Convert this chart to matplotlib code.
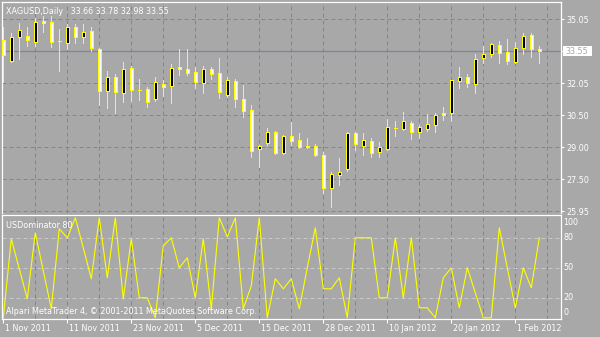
import matplotlib
matplotlib.use("Agg")
import matplotlib.pyplot as plt
from matplotlib.patches import Rectangle
from matplotlib.transforms import blended_transform_factory
import numpy as np

# XAGUSD daily bars, 1 Nov 2011 .. 6 Feb 2012
opens = [34.07, 33.07, 34.23, 34.26, 33.99, 34.98, 34.92, 34.03, 33.94, 34.67,
         34.20, 34.51, 33.63, 31.65, 32.33, 31.56, 32.73, 31.71, 31.73, 31.26,
         31.97, 31.89, 32.78, 32.68, 32.54, 32.05, 32.68, 32.49, 31.46, 32.13,
         31.27, 30.75, 28.89, 29.20, 29.69, 28.70, 29.52, 29.31, 29.02, 29.04,
         28.62, 27.04, 27.66, 27.94, 29.65, 29.06, 29.27, 28.75, 28.92, 29.91,
         29.86, 30.13, 29.69, 29.84, 30.03, 30.61, 30.59, 32.11, 32.30, 31.97,
         33.20, 33.39, 33.82, 33.49, 33.04, 33.68, 34.31, 33.66]
highs = [34.69, 34.40, 34.89, 34.70, 35.10, 35.21, 35.21, 34.58, 34.83, 34.83,
         34.83, 34.67, 33.67, 32.60, 32.46, 33.03, 32.84, 32.21, 31.83, 32.30,
         32.17, 32.93, 33.63, 33.63, 32.80, 32.84, 32.80, 33.20, 32.30, 32.22,
         31.94, 30.99, 29.09, 29.90, 29.76, 29.58, 30.18, 29.68, 29.44, 29.14,
         28.77, 27.83, 28.48, 29.72, 29.72, 29.65, 29.42, 29.23, 30.32, 30.23,
         30.67, 30.24, 30.03, 30.56, 30.62, 30.91, 32.19, 32.80, 32.46, 33.41,
         33.78, 33.94, 34.04, 34.12, 33.99, 34.39, 34.42, 33.78]
lows = [32.08, 33.03, 33.15, 33.78, 33.78, 34.46, 33.75, 32.61, 33.64, 33.91,
        33.91, 33.55, 30.99, 30.86, 30.62, 31.14, 31.18, 31.23, 30.91, 31.18,
        31.43, 31.07, 32.41, 32.41, 31.78, 31.54, 32.21, 31.33, 31.38, 30.88,
        30.41, 28.51, 28.06, 29.09, 28.65, 28.67, 29.09, 28.96, 28.96, 28.58,
        26.83, 26.14, 27.20, 27.87, 28.86, 28.62, 28.54, 28.54, 28.86, 29.52,
        29.80, 29.39, 29.44, 29.76, 29.72, 30.28, 30.24, 31.78, 31.83, 31.54,
        32.96, 33.28, 32.99, 32.92, 32.99, 33.41, 33.28, 32.98]
closes = [33.36, 34.20, 34.53, 34.08, 34.91, 34.89, 33.99, 34.02, 34.67, 34.20,
          34.46, 33.68, 31.65, 32.30, 31.59, 32.68, 31.70, 31.70, 31.14, 32.06,
          31.86, 32.76, 32.68, 32.49, 32.06, 32.68, 32.44, 31.62, 32.17, 31.26,
          30.72, 28.82, 29.06, 29.69, 28.73, 29.52, 29.30, 29.01, 29.01, 28.63,
          27.04, 27.72, 27.81, 29.65, 29.13, 29.33, 28.70, 28.98, 29.93, 29.90,
          30.22, 29.69, 29.93, 30.09, 30.51, 30.50, 32.17, 32.30, 32.02, 33.15,
          33.41, 33.88, 33.47, 33.09, 33.68, 34.26, 33.63, 33.55]

# USDominator(80) oscillator, one value per bar
usdom = [0, 79, 49, 19, 85, 47, 9, 89, 80, 100,
         70, 39, 100, 40, 100, 19, 79, 20, 20, 0,
         72, 80, 50, 60, 20, 79, 9, 100, 81, 100,
         9, 32, 100, 0, 39, 29, 39, 9, 50, 90,
         29, 29, 40, 0, 80, 80, 80, 20, 20, 80,
         20, 80, 10, 10, 0, 40, 50, 10, 50, 25,
         0, 0, 90, 50, 10, 50, 30, 80]

price_levels = [25.95, 27.47, 28.98, 30.50, 32.02, 33.53, 35.05]
price_labels = ["25.95", "27.50", "29.00", "30.50", "32.05", "", "35.05"]
ind_levels = [20, 50, 80]
ind_labels = {"100": 95.5, "80": 80, "50": 50, "20": 20, "0": 5.5}
date_pos = [0, 8, 16, 24, 32, 40, 48, 56, 64]
date_labels = ["1 Nov 2011", "11 Nov 2011", "23 Nov 2011", "5 Dec 2011",
               "15 Dec 2011", "28 Dec 2011", "10 Jan 2012", "20 Jan 2012",
               "1 Feb 2012"]

BG = "#a8a8a8"
GRID = "#778899"
YEL = "#ffff00"
W, H = 600, 337
FS = 5.8
LW = 0.72  # one pixel at 100 dpi

fig = plt.figure(figsize=(6, 3.37), dpi=100, facecolor=BG)


def px_axes(x0, y0, x1, y1):
    return fig.add_axes([x0 / W, 1 - y1 / H, (x1 - x0) / W, (y1 - y0) / H])


ax = px_axes(2, 2, 560.5, 212.5)
ax2 = px_axes(2, 214.5, 560.5, 319)
xlim = (-0.16, 69.65)

for a in (ax, ax2):
    a.set_facecolor(BG)
    a.set_xlim(*xlim)
    for s in a.spines.values():
        s.set_color("white")
        s.set_linewidth(0.9)
    for xv in np.arange(4, 69, 4):
        a.axvline(xv, color=GRID, lw=LW, ls=(0, (4, 3)), zorder=0.5)

ax.spines["bottom"].set_visible(False)
ax.set_ylim(25.89, 35.87)

# price grid + right axis
ax.yaxis.tick_right()
ax.set_yticks(price_levels, price_labels)
ax.tick_params(axis="y", colors="white", length=2.2, width=0.8, pad=2,
               labelsize=FS)
ax.tick_params(axis="x", bottom=False, labelbottom=False)
for lv in price_levels:
    ax.axhline(lv, color=GRID, lw=LW, ls=(0, (4, 3)), zorder=0.5)

# current price line
ax.axhline(closes[-1], color=GRID, lw=0.9, zorder=1)

# candles: black body = up day, white body = down day
for i in range(len(opens)):
    o, h, l, c = opens[i], highs[i], lows[i], closes[i]
    ax.vlines(i, l, h, color=YEL, lw=LW, zorder=2, antialiased=False)
    fill = "black" if c > o else "white"
    ax.add_patch(Rectangle((i - 0.22, min(o, c)), 0.44, abs(c - o),
                           facecolor=fill, edgecolor=YEL, lw=LW,
                           zorder=3, antialiased=False))

# indicator
ax2.set_ylim(-1.2, 103.3)
for lv in ind_levels:
    ax2.axhline(lv, color="#c8c8c8", lw=LW, ls=(0, (4, 3)), zorder=0.5)
ax2.plot(range(len(usdom)), usdom, color=YEL, lw=0.8, zorder=2)
ax2.set_yticks([])
ax2.set_xticks(date_pos)
ax2.tick_params(axis="x", colors="white", length=3, width=0.8,
                labelbottom=False)

tr = blended_transform_factory(ax2.transAxes, ax2.transData)
for lab, v in ind_labels.items():
    ax2.text(1.005, v, lab, transform=tr, color="white", fontsize=FS,
             va="center", ha="left")

trd = blended_transform_factory(ax2.transData, ax2.transAxes)
for p, lab in zip(date_pos, date_labels):
    ax2.text(p + 0.25, -0.095, lab, transform=trd, color="white",
             fontsize=FS, va="center", ha="left")

# texts
title = "XAGUSD,Daily   {:.2f} {:.2f} {:.2f} {:.2f}".format(
    opens[-1], highs[-1], lows[-1], closes[-1])
fig.text(6.5 / W, 1 - 11 / H, title, color="white", fontsize=FS, va="center")
fig.text(6.5 / W, 1 - 226 / H, "USDominator 80", color="white", fontsize=FS,
         va="center")
fig.text(5.5 / W, 1 - 311.5 / H,
         "Alpari MetaTrader 4, \u00a9 2001-2011 MetaQuotes Software Corp.",
         color="white", fontsize=FS, va="center")

# current price tag
fig.patches.append(Rectangle((562.7 / W, 1 - 56.3 / H), 29.5 / W, 10.6 / H,
                             transform=fig.transFigure, facecolor="white",
                             edgecolor="none"))
fig.text(565.5 / W, 1 - 51 / H, "{:.2f}".format(closes[-1]), color=BG,
         fontsize=FS, va="center")

fig.savefig("out.png", dpi=100, facecolor=BG)
